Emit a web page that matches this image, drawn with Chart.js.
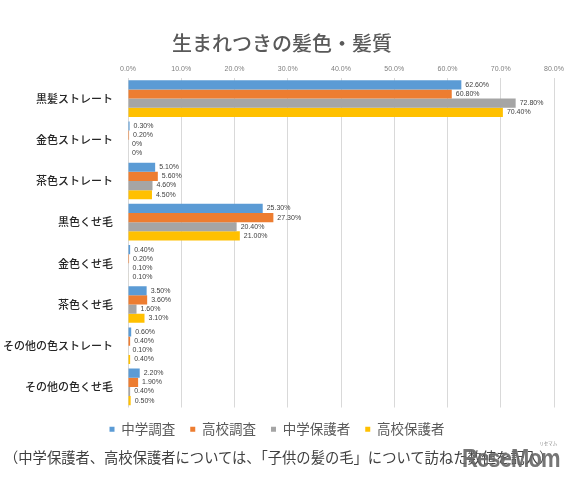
<!DOCTYPE html>
<html>
<head>
<meta charset="utf-8">
<script src="https://cdn.jsdelivr.net/npm/chart.js@4"></script>
<style>
  html, body { margin: 0; padding: 0; background: #fff; }
  #wrap { position: relative; width: 572px; height: 486px; }
  #note {
    position: absolute; left: 4px; top: 447px;
    font: 14.3px "Noto Sans CJK JP", sans-serif; color: #404040; white-space: nowrap;
    line-height: 20px;
  }
  #logo {
    position: absolute; left: 462px; top: 444px;
    font: bold 25px "Liberation Sans", sans-serif;
    color: rgba(105,105,105,0.92); letter-spacing: -1px; line-height: 28px;
    transform: scaleX(0.88); transform-origin: left top;
  }
  #logo small {
    position: absolute; left: 88px; top: -5px;
    font: 5px "Noto Sans CJK JP", sans-serif; color: #888; letter-spacing: 0;
  }
</style>
</head>
<body>
<div id="wrap">
  <canvas id="chart" width="572" height="486"></canvas>
  <div id="note">（中学保護者、高校保護者については、「子供の髪の毛」について訪ねた数値を記入）</div>
  <div id="logo">ReseMom<small>リセマム</small></div>
</div>
<script>
// categories (top to bottom)
const categories = [
  '黒髪ストレート', '金色ストレート', '茶色ストレート', '黒色くせ毛',
  '金色くせ毛', '茶色くせ毛', 'その他の色ストレート', 'その他の色くせ毛'
];
// series values, %
const chugakuChosa = [62.6, 0.3, 5.1, 25.3, 0.4, 3.5, 0.6, 2.2];
const kokoChosa    = [60.8, 0.2, 5.6, 27.3, 0.2, 3.6, 0.4, 1.9];
const chugakuHogo  = [72.8, 0, 4.6, 20.4, 0.1, 1.6, 0.1, 0.4];
const kokoHogo     = [70.4, 0, 4.5, 21.0, 0.1, 3.1, 0.4, 0.5];
// x axis tick labels
const tickLabels = ['0.0%', '10.0%', '20.0%', '30.0%', '40.0%', '50.0%', '60.0%', '70.0%', '80.0%'];

const COLORS = ['#5B9BD5', '#ED7D31', '#A5A5A5', '#FFC000'];
const CJK = '"Noto Sans CJK JP", sans-serif';

// value labels to the right of each bar
const barLabels = {
  id: 'barLabels',
  afterDatasetsDraw(chart) {
    const ctx = chart.ctx;
    ctx.save();
    ctx.font = '7px "Liberation Sans", sans-serif';
    ctx.fillStyle = '#404040';
    ctx.textAlign = 'left';
    ctx.textBaseline = 'middle';
    chart.data.datasets.forEach((ds, i) => {
      chart.getDatasetMeta(i).data.forEach((el, j) => {
        const v = ds.data[j];
        const txt = v === 0 ? '0%' : v.toFixed(2) + '%';
        ctx.fillText(txt, el.x + 4, el.y);
      });
    });
    ctx.restore();
  }
};

new Chart(document.getElementById('chart'), {
  type: 'bar',
  data: {
    labels: categories,
    datasets: [
      { label: '中学調査', data: chugakuChosa, backgroundColor: COLORS[0] },
      { label: '高校調査', data: kokoChosa, backgroundColor: COLORS[1] },
      { label: '中学保護者', data: chugakuHogo, backgroundColor: COLORS[2] },
      { label: '高校保護者', data: kokoHogo, backgroundColor: COLORS[3] },
    ]
  },
  options: {
    indexAxis: 'y',
    responsive: false,
    animation: false,
    categoryPercentage: 0.89,
    barPercentage: 1.0,
    layout: { padding: { left: 0, right: 18, top: 0, bottom: 40 } },
    scales: {
      x: {
        position: 'top',
        min: 0, max: 80,
        ticks: {
          stepSize: 10,
          padding: 5,
          color: '#7f7f7f',
          font: { family: '"Liberation Sans", sans-serif', size: 7 },
          callback: (v, i) => tickLabels[i],
        },
        grid: { color: '#d9d9d9', drawTicks: false },
        border: { display: false },
        afterFit(scale) { scale.height = 21; },
      },
      y: {
        ticks: {
          padding: 15,
          color: '#262626',
          font: { family: CJK, size: 11, weight: '500' },
        },
        grid: { display: false, drawTicks: false },
        border: { display: false },
        afterFit(scale) { scale.width = 128; },
      }
    },
    plugins: {
      title: {
        display: true,
        // leading en space nudges the centred title right, as in the original
        text: '\u2002生まれつきの髪色・髪質',
        color: '#595959',
        font: { family: CJK, size: 20, weight: '500' },
        padding: { top: 31, bottom: 2 },
      },
      legend: {
        position: 'bottom',
        labels: {
          boxWidth: 5,
          boxHeight: 5,
          padding: 15,
          color: '#595959',
          font: { family: CJK, size: 13.5, lineHeight: 0.5 },
        }
      },
      tooltip: { enabled: false },
    }
  },
  plugins: [barLabels]
});
</script>
</body>
</html>
